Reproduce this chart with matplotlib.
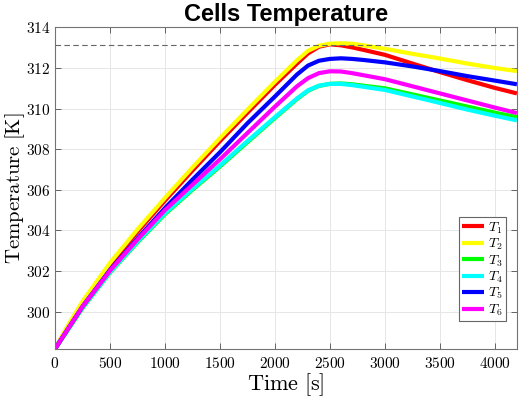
import numpy as np
import matplotlib
matplotlib.use("Agg")
import matplotlib.pyplot as plt
from matplotlib.ticker import FuncFormatter

plt.rcParams['mathtext.fontset'] = 'cm'

# time samples [s]
time = [0, 100, 250, 500, 750, 1000, 1250, 1500, 1750, 2000, 2200, 2300,
        2400, 2500, 2600, 2700, 2800, 3000, 3250, 3500, 3750, 4000, 4200]

# cell temperatures [K]
t1 = [298.15, 299.10, 300.42, 302.30, 303.93, 305.47, 306.95, 308.40, 309.80,
      311.18, 312.22, 312.72, 313.05, 313.17, 313.12, 313.02, 312.90, 312.65,
      312.22, 311.80, 311.40, 311.02, 310.75]
t2 = [298.15, 299.15, 300.50, 302.40, 304.05, 305.60, 307.10, 308.55, 309.95,
      311.33, 312.38, 312.85, 313.10, 313.20, 313.22, 313.20, 313.12, 312.95,
      312.70, 312.47, 312.22, 312.00, 311.85]
t3 = [298.15, 298.96, 300.17, 301.92, 303.41, 304.80, 306.00, 307.15, 308.35,
      309.54, 310.47, 310.88, 311.12, 311.22, 311.24, 311.20, 311.13, 311.00,
      310.70, 310.40, 310.10, 309.80, 309.58]
t4 = [298.15, 298.98, 300.20, 301.95, 303.45, 304.85, 306.05, 307.20, 308.40,
      309.58, 310.50, 310.90, 311.13, 311.22, 311.22, 311.16, 311.08, 310.92,
      310.60, 310.28, 309.95, 309.65, 309.42]
t5 = [298.15, 299.00, 300.25, 302.05, 303.60, 305.10, 306.50, 307.85, 309.28,
      310.60, 311.68, 312.12, 312.36, 312.45, 312.48, 312.45, 312.40, 312.28,
      312.08, 311.85, 311.60, 311.38, 311.20]
t6 = [298.15, 299.00, 300.25, 302.02, 303.55, 305.00, 306.25, 307.50, 308.80,
      310.10, 311.10, 311.50, 311.75, 311.84, 311.83, 311.75, 311.65, 311.45,
      311.10, 310.75, 310.40, 310.05, 309.78]

series = [t1, t2, t3, t4, t5, t6]
colors = ['#ff0000', '#ffff00', '#00ff00', '#00ffff', '#0000ff', '#ff00ff']
labels = [r'$T_%d$' % (i + 1) for i in range(6)]
t_max = 313.15

fig = plt.figure(figsize=(5.19, 3.98), dpi=100)
ax = fig.add_axes([0.106, 0.123, 0.89, 0.808])

for y, c, lab in zip(series, colors, labels):
    ax.plot(time, y, color=c, lw=3.0, label=lab, solid_capstyle='butt')
ax.axhline(t_max, color='0.4', ls=(0, (5, 3)), lw=0.8)

ax.set_xlim(0, 4200)
ax.set_ylim(298.15, 314)
ax.set_xticks(np.arange(0, 4001, 500))
ax.set_yticks(np.arange(300, 315, 2))
fmt = FuncFormatter(lambda v, p: r'$%d$' % v)
ax.xaxis.set_major_formatter(fmt)
ax.yaxis.set_major_formatter(fmt)
ax.tick_params(direction='in', top=True, right=True, labelsize=11,
               color='0.3', length=4, width=0.6)
ax.tick_params(axis='x', pad=5)
for s in ax.spines.values():
    s.set_color('0.45')
    s.set_linewidth(0.8)
ax.grid(True, color='0.9', lw=0.7)
ax.set_axisbelow(True)

ax.set_xlabel(r'$\mathrm{Time\ [s]}$', fontsize=16, labelpad=0)
ax.set_ylabel(r'$\mathrm{Temperature\ [K]}$', fontsize=15, labelpad=-1)
ax.set_title('Cells Temperature', fontsize=17, fontweight='bold',
             family='Liberation Sans', pad=5)

leg = ax.legend(loc='lower right', bbox_to_anchor=(0.976, 0.088), fontsize=10,
                handlelength=1.6, handletextpad=0.3, labelspacing=0.08,
                borderpad=0.2, borderaxespad=0, fancybox=False, framealpha=1)
leg.get_frame().set_edgecolor('0.4')
leg.get_frame().set_linewidth(0.8)

fig.savefig('out.png', dpi=100)
